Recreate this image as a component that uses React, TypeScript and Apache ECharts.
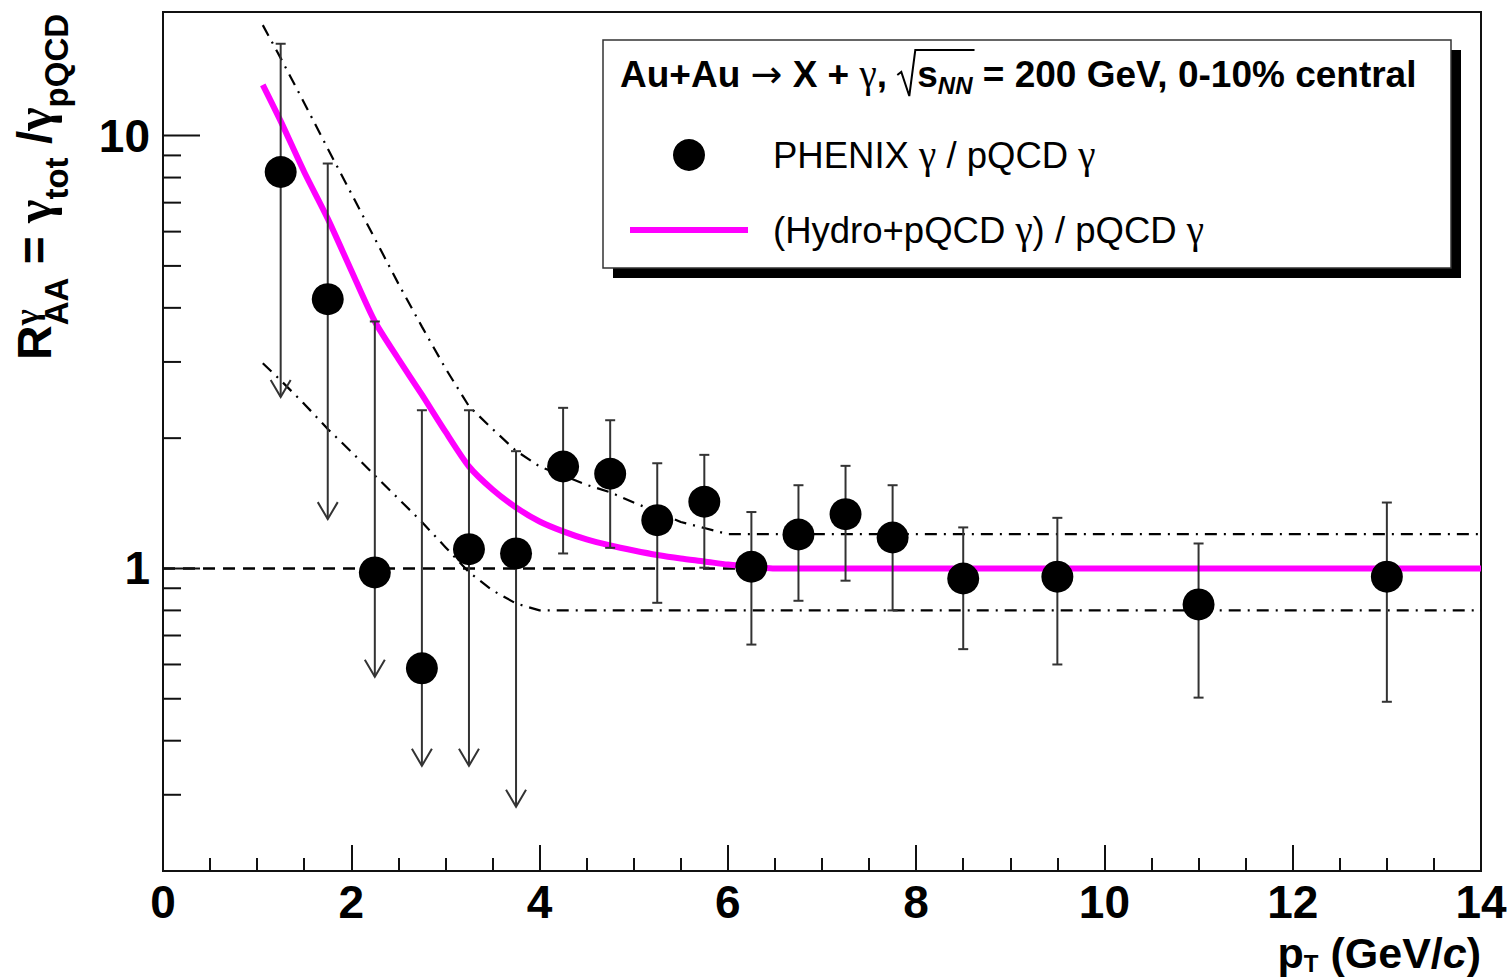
import React, { useEffect, useRef } from "react";
import * as echarts from "echarts";

// ---- measured data points (PHENIX direct photon R_AA, 0-10% central) ----
const pT = [1.25, 1.75, 2.25, 2.75, 3.25, 3.75, 4.25, 4.75, 5.25, 5.75, 6.25, 6.75, 7.25, 7.75, 8.5, 9.5, 11, 13];
const rAA = [8.24, 4.19, 0.979, 0.588, 1.108, 1.083, 1.72, 1.655, 1.293, 1.426, 1.009, 1.198, 1.335, 1.179, 0.948, 0.957, 0.826, 0.957];
const errHigh = [16.3, 8.62, 3.72, 2.32, 2.32, 1.866, 2.35, 2.2, 1.75, 1.83, 1.35, 1.557, 1.726, 1.557, 1.244, 1.309, 1.142, 1.42];
const errLow = [2.49, 1.3, 0.562, 0.35, 0.35, 0.2815, 1.083, 1.116, 0.833, 1.004, 0.667, 0.842, 0.937, 0.8, 0.651, 0.6, 0.503, 0.492];
const upperLimit = [true, true, true, true, true, true, false, false, false, false, false, false, false, false, false, false, false, false];

// ---- hydro + pQCD over pQCD ----
const hydroX = [1.06, 1.25, 1.5, 1.75, 2.0, 2.25, 2.5, 2.75, 3.0, 3.25, 3.5, 3.75, 4.0, 4.25, 4.5, 4.75, 5.0, 5.25, 5.5, 5.75, 6.0, 6.25, 6.5, 14.0];
const hydroY = [13.1, 10.8, 8.24, 6.43, 4.88, 3.72, 3.05, 2.52, 2.07, 1.72, 1.522, 1.383, 1.284, 1.218, 1.167, 1.13, 1.1, 1.074, 1.054, 1.038, 1.021, 1.009, 1.0, 1.0];

// ---- uncertainty band edges ----
const bandHighX = [1.06, 1.25, 1.5, 1.75, 2.0, 2.25, 2.5, 2.75, 3.0, 3.25, 3.5, 3.75, 4.0, 4.25, 4.5, 4.75, 5.0, 5.25, 5.5, 5.75, 6.0, 14.0];
const bandHighY = [18.0, 15.1, 11.9, 9.33, 7.35, 5.78, 4.55, 3.62, 2.9, 2.37, 2.1, 1.87, 1.72, 1.64, 1.56, 1.5, 1.42, 1.35, 1.28, 1.24, 1.2, 1.2];
const bandLowX = [1.06, 1.25, 1.5, 1.75, 2.0, 2.25, 2.5, 2.75, 3.0, 3.25, 3.5, 3.75, 4.0, 14.0];
const bandLowY = [2.98, 2.72, 2.4, 2.1, 1.86, 1.64, 1.45, 1.28, 1.12, 0.98, 0.89, 0.83, 0.8, 0.8];

// ---- reference line R_AA = 1 ----
const unityX = [0, 14];
const unityY = [1, 1];

// ---- axis ticks ----
const xRange = [0, 14];
const xMajorStep = 2;
const yRange = [0.2, 19.3];
const yMajorTicks = [1, 10];
const yMinorTicks = [0.2, 0.3, 0.4, 0.5, 0.6, 0.7, 0.8, 0.9, 2, 3, 4, 5, 6, 7, 8, 9];

const SANS = "Liberation Sans";
const SERIF = "Liberation Serif";
const ARROWFONT = "DejaVu Sans";
const MAGENTA = "#ff00ff";
const INK = "#111";

let measureCtx: CanvasRenderingContext2D | null = null;
function measure(t: string, size: number, bold: boolean, italic: boolean, family: string) {
  if (!measureCtx) measureCtx = document.createElement("canvas").getContext("2d");
  measureCtx!.font = `${italic ? "italic" : "normal"} ${bold ? "bold" : "normal"} ${size}px "${family}"`;
  return measureCtx!.measureText(t).width;
}

type Seg = {
  t?: string;
  size?: number;
  bold?: boolean;
  italic?: boolean;
  dy?: number;
  hold?: boolean;
  gap?: number;
  font?: string;
};

// Lays out a run of text pieces on a common baseline (local y = 0).
function buildRun(segs: Seg[], z = 20) {
  let cx = 0;
  const els: any[] = [];
  const marks: number[] = [];
  for (const s of segs) {
    marks.push(cx);
    if (s.gap) {
      cx += s.gap;
      continue;
    }
    const t = s.t || "";
    const size = s.size || 30;
    const bold = !!s.bold;
    const italic = !!s.italic;
    const family = s.font || SANS;
    const lead = t.length - t.trimStart().length;
    const leadW = lead ? measure(t.slice(0, lead), size, bold, italic, family) : 0;
    const w = measure(t, size, bold, italic, family);
    els.push({
      type: "text",
      x: cx + leadW,
      y: (s.dy || 0) - 0.3465 * size,
      z,
      silent: true,
      style: {
        text: t.trim(),
        fontFamily: family,
        fontSize: size,
        lineHeight: Math.round(size * 0.9),
        fontWeight: bold ? "bold" : "normal",
        fontStyle: italic ? "italic" : "normal",
        fill: "#000",
        align: "left",
        verticalAlign: "middle",
      },
    });
    if (!s.hold) cx += w;
  }
  marks.push(cx);
  return { els, width: cx, marks };
}

function buildOption() {
  // y axis title: R^γ_AA = γ_tot /γ_pQCD (rotated)
  const yTitle = buildRun([
    { t: "R", size: 48, bold: true },
    { t: "γ", size: 34, bold: true, dy: -13, hold: true, font: SERIF },
    { t: "AA", size: 33, bold: true, dy: 17 },
    { t: " = ", size: 48, bold: true },
    { t: "γ", size: 50, bold: true, font: SERIF },
    { t: "tot", size: 33, bold: true, dy: 17 },
    { t: " /", size: 48, bold: true },
    { t: "γ", size: 50, bold: true, font: SERIF },
    { t: "pQCD", size: 33, bold: true, dy: 17 },
  ]);

  // x axis title: p_T (GeV/c)
  const xTitle = buildRun([
    { t: "p", size: 43, bold: true },
    { t: "T", size: 24, bold: true, dy: 4 },
    { t: " (GeV/", size: 43, bold: true },
    { t: "c", size: 43, bold: true, italic: true },
    { t: ")", size: 43, bold: true },
  ]);

  // legend header with √s_NN
  const hs = 37;
  const header = buildRun([
    { t: "Au+Au ", size: hs, bold: true },
    { t: "→", size: 38, font: ARROWFONT },
    { t: " X + ", size: hs, bold: true },
    { t: "γ", size: 39, font: SERIF },
    { t: ", ", size: hs, bold: true },
    { gap: 20 },
    { t: "s", size: hs, bold: true },
    { t: "NN", size: 24, bold: true, italic: true, dy: 7 },
    { t: " = 200 GeV, 0-10% central", size: hs, bold: true },
  ]);
  const sx = header.marks[6];
  const nnEnd = header.marks[8];
  const radical = {
    type: "polyline",
    z: 21,
    silent: true,
    shape: {
      points: [
        [sx - 20, -12],
        [sx - 16, -15],
        [sx - 8, 9],
        [sx - 2, -37],
        [nnEnd + 2, -37],
      ],
    },
    style: { stroke: "#000", lineWidth: 2, fill: null },
  };

  const rowSize = 36.5;
  const gSize = 39;
  const row1 = buildRun([
    { t: "PHENIX ", size: rowSize },
    { t: "γ", size: gSize, font: SERIF },
    { t: " / pQCD ", size: rowSize },
    { t: "γ", size: gSize, font: SERIF },
  ]);
  const row2 = buildRun([
    { t: "(Hydro+pQCD ", size: rowSize },
    { t: "γ", size: gSize, font: SERIF },
    { t: ") / pQCD ", size: rowSize },
    { t: "γ", size: gSize, font: SERIF },
  ]);

  const graphic: any[] = [
    // legend box with drop shadow
    { type: "rect", z: 15, silent: true, shape: { x: 613, y: 50, width: 848, height: 228 }, style: { fill: "#000" } },
    { type: "rect", z: 16, silent: true, shape: { x: 603, y: 40, width: 848, height: 228 }, style: { fill: "#fff", stroke: "#333", lineWidth: 1.5 } },
    { type: "group", x: 620, y: 87, children: [...header.els, radical] },
    { type: "circle", z: 20, silent: true, shape: { cx: 689, cy: 155, r: 16 }, style: { fill: "#000" } },
    { type: "group", x: 773, y: 168, children: row1.els },
    { type: "line", z: 20, silent: true, shape: { x1: 630, y1: 230, x2: 748, y2: 230 }, style: { stroke: MAGENTA, lineWidth: 6 } },
    { type: "group", x: 773, y: 243, children: row2.els },
    // axis titles
    { type: "group", x: 1481 - xTitle.width, y: 967.5, children: xTitle.els },
    { type: "group", x: 51, y: 360, rotation: Math.PI / 2, children: yTitle.els },
  ];

  const tickData = [
    ...yMajorTicks.map((v) => [xRange[0], v, 1]),
    ...yMinorTicks.map((v) => [xRange[0], v, 0]),
  ];

  const errData = pT.map((x, i) => [x, errLow[i], errHigh[i], upperLimit[i] ? 1 : 0]);

  const labelStyle = { fontFamily: SANS, fontWeight: "bold" as const, fontSize: 46, lineHeight: 36, color: "#000" };

  return {
    animation: false,
    backgroundColor: "#fff",
    grid: {
      left: 163,
      top: 12,
      right: 30,
      bottom: 106,
      show: true,
      borderColor: INK,
      borderWidth: 2,
      backgroundColor: "transparent",
    },
    xAxis: {
      type: "value",
      min: xRange[0],
      max: xRange[1],
      interval: xMajorStep,
      axisLine: { onZero: false, lineStyle: { color: INK, width: 2 } },
      axisTick: { inside: true, length: 26, lineStyle: { color: INK, width: 2 } },
      minorTick: { show: true, splitNumber: 4, length: 13, lineStyle: { color: INK, width: 2 } },
      splitLine: { show: false },
      minorSplitLine: { show: false },
      axisLabel: { ...labelStyle, margin: 13 },
    },
    yAxis: {
      type: "log",
      logBase: 10,
      min: yRange[0],
      max: yRange[1],
      axisLine: { show: true, lineStyle: { color: INK, width: 2 } },
      axisTick: { show: false },
      minorTick: { show: false },
      splitLine: { show: false },
      axisLabel: {
        ...labelStyle,
        margin: 13,
        padding: [8, 0, 0, 0],
        formatter: (v: number) => {
          const hit = yMajorTicks.find((m) => Math.abs(v - m) / m < 1e-6);
          return hit !== undefined ? String(hit) : "";
        },
      },
    },
    graphic,
    series: [
      {
        type: "line",
        name: "unity",
        data: unityX.map((x, i) => [x, unityY[i]]),
        symbol: "none",
        z: 2,
        lineStyle: { color: "#000", width: 2.5, type: [12, 8] },
        silent: true,
      },
      {
        type: "line",
        name: "band high",
        data: bandHighX.map((x, i) => [x, bandHighY[i]]),
        symbol: "none",
        z: 2,
        lineStyle: { color: "#000", width: 2.2, type: [12, 7, 2, 7] },
        silent: true,
      },
      {
        type: "line",
        name: "band low",
        data: bandLowX.map((x, i) => [x, bandLowY[i]]),
        symbol: "none",
        z: 2,
        lineStyle: { color: "#000", width: 2.2, type: [12, 7, 2, 7] },
        silent: true,
      },
      {
        type: "line",
        name: "(Hydro+pQCD γ) / pQCD γ",
        data: hydroX.map((x, i) => [x, hydroY[i]]),
        symbol: "none",
        smooth: 0.25,
        z: 3,
        lineStyle: { color: MAGENTA, width: 6 },
        silent: true,
      },
      {
        type: "custom",
        name: "errors",
        z: 4,
        silent: true,
        clip: false,
        data: errData,
        encode: { x: 0, y: [1, 2] },
        renderItem: (_params: any, api: any) => {
          const x = api.value(0);
          const lo = api.value(1);
          const hi = api.value(2);
          const lim = api.value(3);
          const top = api.coord([x, hi]);
          const bot = api.coord([x, lo]);
          const st = { stroke: "#333", lineWidth: 2, fill: null };
          const children: any[] = [
            { type: "line", shape: { x1: top[0], y1: top[1], x2: bot[0], y2: bot[1] }, style: st },
            { type: "line", shape: { x1: top[0] - 5, y1: top[1], x2: top[0] + 5, y2: top[1] }, style: st },
          ];
          if (lim) {
            children.push({
              type: "polyline",
              shape: { points: [[bot[0] - 10, bot[1] - 17], [bot[0], bot[1]], [bot[0] + 10, bot[1] - 17]] },
              style: st,
            });
          } else {
            children.push({ type: "line", shape: { x1: bot[0] - 5, y1: bot[1], x2: bot[0] + 5, y2: bot[1] }, style: st });
          }
          return { type: "group", children };
        },
      },
      {
        type: "scatter",
        name: "PHENIX γ / pQCD γ",
        data: pT.map((x, i) => [x, rAA[i]]),
        symbol: "circle",
        symbolSize: 32,
        z: 5,
        itemStyle: { color: "#000", opacity: 1 },
        silent: true,
      },
      {
        type: "custom",
        name: "y ticks",
        z: 6,
        silent: true,
        clip: false,
        data: tickData,
        encode: { x: 0, y: 1 },
        renderItem: (_params: any, api: any) => {
          const p = api.coord([api.value(0), api.value(1)]);
          const len = api.value(2) ? 37 : 18;
          return {
            type: "line",
            shape: { x1: p[0], y1: p[1], x2: p[0] + len, y2: p[1] },
            style: { stroke: INK, lineWidth: 2 },
          };
        },
      },
    ],
  };
}

export default function App() {
  const ref = useRef<HTMLDivElement>(null);
  useEffect(() => {
    const chart = echarts.init(ref.current!, null, { renderer: "svg" });
    chart.setOption(buildOption() as any);
    return () => chart.dispose();
  }, []);
  return (
    <div
      ref={ref}
      style={{ position: "fixed", left: 0, top: 0, width: 1511, height: 977, background: "#fff" }}
    />
  );
}
